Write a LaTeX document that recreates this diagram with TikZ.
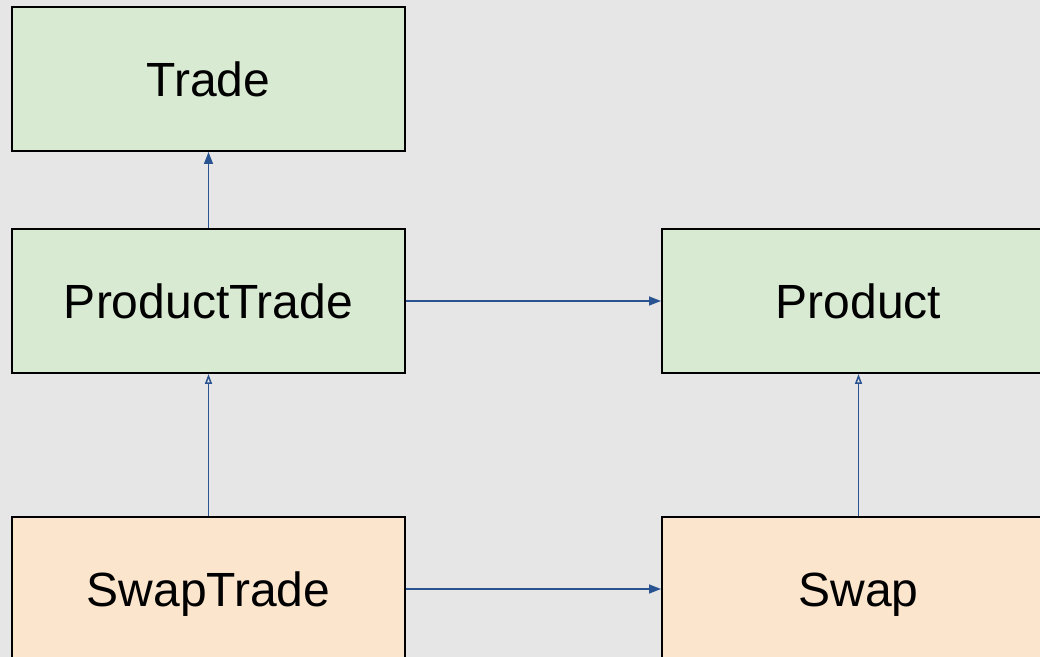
\documentclass[tikz,border=0pt]{standalone}
\usepackage{fontspec}
\setmainfont{Liberation Sans}
\usepackage{xcolor}
\usetikzlibrary{arrows.meta}

\definecolor{bgGray}{HTML}{E6E6E6}
\definecolor{clsGreen}{HTML}{D9EAD3}
\definecolor{clsOrange}{HTML}{FCE5CD}
\definecolor{linkBlue}{HTML}{2A5391}

\tikzset{
  cls/.style={draw=black, line width=1pt, minimum width=196.5pt, minimum height=72pt,
              inner sep=0pt, text height=17.2pt, text depth=0pt,
              font=\fontsize{24}{28}\selectfont},
  base/.style={cls, fill=clsGreen},
  derived/.style={cls, fill=clsOrange},
  uses/.style={draw=linkBlue, line width=0.75pt, -{Triangle[length=6pt,width=4.5pt]}},
  isa/.style={draw=linkBlue, line width=0.75pt, -{Triangle[open,length=5pt,width=3.5pt]}}
}

\begin{document}
\begin{tikzpicture}[x=0.5pt, y=-0.5pt]
                \fill[bgGray] (0,0) rectangle (1040,657);
                \useasboundingbox (0,0) rectangle (1040,657);
                \node[base] (trade) at (208.5,79) {Trade};
                \node[base] (ptrade) at (208.5,301) {ProductTrade};
                \node[base] (product) at (858.5,301) {Product};
                \node[derived] (strade) at (208.5,589) {SwapTrade};
                \node[derived] (swap) at (858.5,589) {Swap};
                % links between the classes
                \draw[uses] (ptrade) -- (trade);
                \draw[uses] (ptrade) -- (product);
                \draw[uses] (strade) -- (swap);
                \draw[isa] (strade) -- (ptrade);
                \draw[isa] (swap) -- (product);
            \end{tikzpicture}
\end{document}
